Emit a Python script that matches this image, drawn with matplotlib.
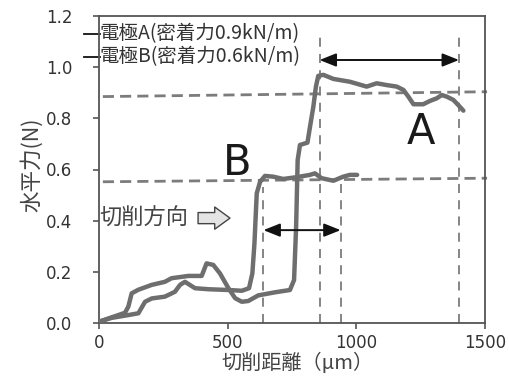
import matplotlib
matplotlib.use("Agg")
import matplotlib.pyplot as plt
from matplotlib.lines import Line2D

plt.rcParams['font.family'] = ['Noto Sans CJK JP', 'DejaVu Sans']

# Curve A (electrode A, adhesion 0.9 kN/m)
a_x = [0, 49, 101, 114, 127, 153, 205, 256, 282, 347, 399, 418, 444, 470, 503, 529, 555,
       580, 619, 684, 742, 758, 766, 772, 781, 810, 820, 833, 843, 852, 872, 911, 975,
       1040, 1079, 1118, 1157, 1183, 1202, 1222, 1260, 1286, 1312, 1332, 1351, 1377,
       1396, 1416]
a_y = [0.005, 0.022, 0.040, 0.064, 0.116, 0.130, 0.149, 0.161, 0.175, 0.184, 0.184, 0.233,
       0.227, 0.194, 0.136, 0.097, 0.083, 0.086, 0.108, 0.120, 0.129, 0.168, 0.376, 0.637,
       0.696, 0.705, 0.767, 0.846, 0.924, 0.966, 0.970, 0.954, 0.943, 0.924, 0.937, 0.930,
       0.924, 0.911, 0.885, 0.855, 0.855, 0.868, 0.878, 0.891, 0.885, 0.872, 0.852, 0.830]

# Curve B (electrode B, adhesion 0.6 kN/m)
b_x = [0, 49, 114, 153, 179, 205, 256, 295, 315, 334, 373, 425, 503, 555, 583, 596, 604,
       613, 626, 645, 677, 716, 768, 820, 839, 865, 911, 949, 975, 1003]
b_y = [0.005, 0.020, 0.031, 0.038, 0.083, 0.096, 0.103, 0.122, 0.149, 0.161, 0.136, 0.132,
       0.129, 0.126, 0.136, 0.194, 0.310, 0.507, 0.552, 0.575, 0.572, 0.563, 0.570,
       0.579, 0.585, 0.566, 0.556, 0.572, 0.579, 0.579]

# Reference dashed lines
ref_a_x = [15, 1508]
ref_a_y = [0.885, 0.904]
ref_b_x = [15, 1508]
ref_b_y = [0.552, 0.566]
vlines_a = [857, 1399]
vlines_b = [639, 939]
vtop_a = 1.13
vtop_b = [0.533, 0.56]
arrow_a_y = 1.028
arrow_b_y = 0.363

xticks = [0, 500, 1000, 1500]
yticks = [0.0, 0.2, 0.4, 0.6, 0.8, 1.0, 1.2]

legend_labels = ['電極A(密着力0.9kN/m)', '電極B(密着力0.6kN/m)']
legend_y = [1.13, 1.04]

fig = plt.figure(figsize=(5.09, 3.83), dpi=100)
ax = fig.add_axes([99/509, 1 - 323/383, 386/509, 307/383])

ax.set_xlim(0, 1500)
ax.set_ylim(0, 1.2)

curve_col = '#6e6e6e'
dash_col = '#7c7c7c'

ax.plot(ref_a_x, ref_a_y, color=dash_col, lw=2.0, ls=(0, (4, 2.2)), clip_on=False, zorder=2)
ax.plot(ref_b_x, ref_b_y, color=dash_col, lw=2.0, ls=(0, (4, 2.2)), clip_on=False, zorder=2)
for xv in vlines_a:
    ax.plot([xv, xv], [0, vtop_a], color=dash_col, lw=1.3, ls=(0, (5, 4)), zorder=2)
for xv, top in zip(vlines_b, vtop_b):
    ax.plot([xv, xv], [0, top], color=dash_col, lw=1.3, ls=(0, (5, 4)), zorder=2)

ax.plot(a_x, a_y, color=curve_col, lw=3.2, solid_joinstyle='round', solid_capstyle='round', zorder=3)
ax.plot(b_x, b_y, color=curve_col, lw=3.2, solid_joinstyle='round', solid_capstyle='round', zorder=3)

arrowprops = dict(arrowstyle='<|-|>,head_length=1.0,head_width=0.4', color='#111111', lw=1.4,
                  shrinkA=0, shrinkB=0)
ax.annotate('', xy=(vlines_a[0], arrow_a_y), xytext=(vlines_a[1], arrow_a_y), arrowprops=arrowprops, zorder=4)
ax.annotate('', xy=(vlines_b[0], arrow_b_y), xytext=(vlines_b[1], arrow_b_y), arrowprops=arrowprops, zorder=4)

ax.text(1250, 0.745, 'A', fontsize=30, color='#1a1a1a', ha='center', va='center',
        family=['DejaVu Sans'])
ax.text(537, 0.625, 'B', fontsize=30, color='#1a1a1a', ha='center', va='center',
        family=['DejaVu Sans'])

for lab, yv in zip(legend_labels, legend_y):
    ax.text(3, yv, lab, fontsize=14, color='#333333', ha='left', va='center')
    ax.add_line(Line2D([-0.039, 0.003], [yv / 1.2, yv / 1.2], transform=ax.transAxes,
                       color='#111111', lw=1.3, clip_on=False))

ax.text(0, 0.41, '切削方向', fontsize=16, color='#444444', ha='left', va='center')
ax.annotate('', xy=(509, 0.41), xytext=(385, 0.41),
            arrowprops=dict(arrowstyle='simple,head_length=0.55,head_width=0.8,tail_width=0.4',
                            fc='#e4e4e4', ec='#444444', lw=1.0, shrinkA=0, shrinkB=0,
                            mutation_scale=20))

ax.set_xticks(xticks)
ax.set_yticks(yticks)
ax.set_xticklabels([str(v) for v in xticks], family=['DejaVu Sans'])
ax.set_yticklabels([f'{v:.1f}' for v in yticks], family=['DejaVu Sans'])
ax.tick_params(axis='both', labelsize=12, colors='#555555', labelcolor='#333333',
               direction='out', length=4, width=1.2)
ax.tick_params(axis='y', pad=15)
ax.tick_params(axis='x', pad=4)
for sp in ax.spines.values():
    sp.set_color('#555555')
    sp.set_linewidth(1.3)

ax.set_xlabel('切削距離（μm）', fontsize=14.5, color='#444444')
ax.set_ylabel('水平力(N)', fontsize=15.5, color='#444444')
ax.xaxis.set_label_coords(0.513, -0.097)
ax.yaxis.set_label_coords(-0.145, 0.515)

fig.savefig('out.png', dpi=100)
